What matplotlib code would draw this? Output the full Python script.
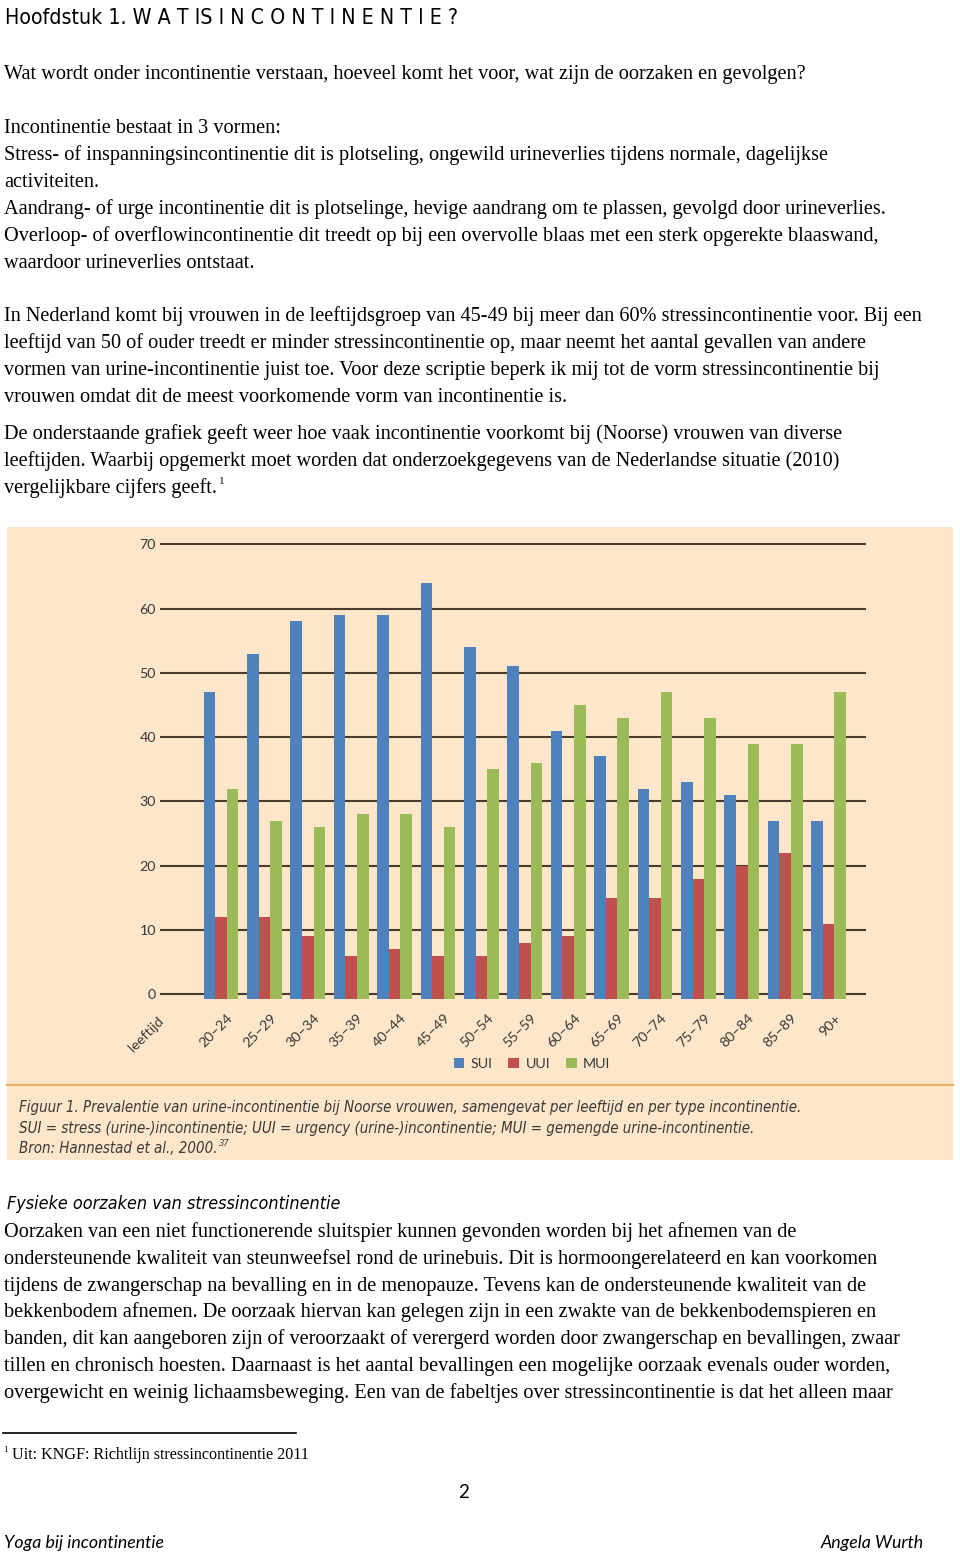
import numpy as np
import matplotlib
matplotlib.use("Agg")
import matplotlib.pyplot as plt
from matplotlib.patches import Rectangle
from matplotlib.lines import Line2D
from matplotlib.transforms import offset_copy

"Chart data: prevalence (%) per age group and type"
ages = ["20–24", "25–29", "30–34", "35–39", "40–44", "45–49", "50–54", "55–59",
        "60–64", "65–69", "70–74", "75–79", "80–84", "85–89", "90+"]
sui = [47, 53, 58, 59, 59, 64, 54, 51, 41, 37, 32, 33, 31, 27, 27]
uui = [12, 12, 9, 6, 7, 6, 6, 8, 9, 15, 15, 18, 20, 22, 11]
mui = [32, 27, 26, 28, 28, 26, 35, 36, 45, 43, 47, 43, 39, 39, 47]
series_names = ["SUI", "UUI", "MUI"]
yticks = [0, 10, 20, 30, 40, 50, 60, 70]

"Page text"
header = "Hoofdstuk 1. W A T IS I N C O N T I N E N T I E ?"
body_top = [
    (79, "Wat wordt onder incontinentie verstaan, hoeveel komt het voor, wat zijn de oorzaken en gevolgen?"),
    (133, "Incontinentie bestaat in 3 vormen:"),
    (160, "Stress- of inspanningsincontinentie dit is plotseling, ongewild urineverlies tijdens normale, dagelijkse"),
    (187, "activiteiten."),
    (214, "Aandrang- of urge incontinentie dit is plotselinge, hevige aandrang om te plassen, gevolgd door urineverlies."),
    (241, "Overloop- of overflowincontinentie dit treedt op bij een overvolle blaas met een sterk opgerekte blaaswand,"),
    (268, "waardoor urineverlies ontstaat."),
    (321, "In Nederland komt bij vrouwen in de leeftijdsgroep van 45-49 bij meer dan 60% stressincontinentie voor. Bij een"),
    (348, "leeftijd van 50 of ouder treedt er minder stressincontinentie op, maar neemt het aantal gevallen van andere"),
    (375, "vormen van urine-incontinentie juist toe. Voor deze scriptie beperk ik mij tot de vorm stressincontinentie bij"),
    (402, "vrouwen omdat dit de meest voorkomende vorm van incontinentie is."),
    (439, "De onderstaande grafiek geeft weer hoe vaak incontinentie voorkomt bij (Noorse) vrouwen van diverse"),
    (466, "leeftijden. Waarbij opgemerkt moet worden dat onderzoekgegevens van de Nederlandse situatie (2010)"),
    (493, "vergelijkbare cijfers geeft."),
]
caption = [
    "Figuur 1. Prevalentie van urine-incontinentie bij Noorse vrouwen, samengevat per leeftijd en per type incontinentie.",
    "SUI = stress (urine-)incontinentie; UUI = urgency (urine-)incontinentie; MUI = gemengde urine-incontinentie.",
    "Bron: Hannestad et al., 2000.",
]
subheading = "Fysieke oorzaken van stressincontinentie"
body_bottom = [
    "Oorzaken van een niet functionerende sluitspier kunnen gevonden worden bij het afnemen van de",
    "ondersteunende kwaliteit van steunweefsel rond de urinebuis. Dit is hormoongerelateerd en kan voorkomen",
    "tijdens de zwangerschap na bevalling en in de menopauze. Tevens kan de ondersteunende kwaliteit van de",
    "bekkenbodem afnemen. De oorzaak hiervan kan gelegen zijn in een zwakte van de bekkenbodemspieren en",
    "banden, dit kan aangeboren zijn of veroorzaakt of verergerd worden door zwangerschap en bevallingen, zwaar",
    "tillen en chronisch hoesten. Daarnaast is het aantal bevallingen een mogelijke oorzaak evenals ouder worden,",
    "overgewicht en weinig lichaamsbeweging. Een van de fabeltjes over stressincontinentie is dat het alleen maar",
]
footnote = "Uit: KNGF: Richtlijn stressincontinentie 2011"

W, H = 960, 1552
fig = plt.figure(figsize=(W / 100, H / 100), dpi=100)
fig.patch.set_facecolor("white")


def fx(px):
    return px / W


def fy(py):
    return 1 - py / H


serif = "Liberation Serif"
narrow = "DejaVu Sans"
chartfont = "Lato"
body_size = 14.6
chart_size = 10.3

fig.text(fx(5), fy(24), header, family=narrow, stretch="condensed", fontsize=15.3,
         va="baseline", color="black")
for by, line in body_top:
    fig.text(fx(4), fy(by), line, family=serif, fontsize=body_size, va="baseline")
fig.text(fx(219), fy(484), "1", family=serif, fontsize=8, va="baseline")

"Chart panel"
bg = "#fde6c9"
fig.patches.append(Rectangle((fx(7), fy(1160)), fx(953) - fx(7), fy(527) - fy(1160),
                             transform=fig.transFigure, facecolor=bg, edgecolor="none",
                             zorder=-10))
fig.lines.append(Line2D([fx(7), fx(953)], [fy(1085), fy(1085)], transform=fig.transFigure,
                        color="#e9b46c", lw=1.6, zorder=-5))

ppu = 6.43
y0 = 994.3
ylo, yhi = -0.9, 70.9
ax_left, ax_right = 160, 866
ax = fig.add_axes([fx(ax_left), fy(y0 - ylo * ppu), fx(ax_right) - fx(ax_left),
                   (yhi - ylo) * ppu / H])
ax.patch.set_alpha(0)

x = np.arange(len(ages))
w = 0.268
base = -0.7
colors = ["#4f81bd", "#c0504d", "#9bbb59"]
for k, vals in enumerate([sui, uui, mui]):
    ax.bar(x + (k - 1) * w, np.array(vals) - base, w, bottom=base, color=colors[k],
           label=series_names[k], zorder=3)

ax.set_xlim((ax_left - 221) / 43.4, (ax_right - 221) / 43.4)
ax.set_ylim(ylo, yhi)
for t in yticks:
    ax.axhline(t, color="#4a3b30", lw=1.5, zorder=1)
ax.set_yticks(yticks)
ax.set_yticklabels([str(t) for t in yticks], family=chartfont, fontsize=chart_size,
                   color="#3a3a3a")
ax.tick_params(axis="y", length=0, pad=3)
ax.set_xticks([])
for s in ax.spines.values():
    s.set_visible(False)

lab_tr = offset_copy(ax.transData, fig=fig, x=10, y=-22, units="dots")
for i, a in enumerate(ages):
    ax.text(x[i], 0, a, transform=lab_tr, rotation=45, ha="right", va="center",
            rotation_mode="anchor", family=chartfont, fontsize=chart_size, color="#3a3a3a")
fig.text(fx(162), fy(1019), "leeftijd", rotation=45, ha="right", va="center",
         rotation_mode="anchor", family=chartfont, fontsize=chart_size, color="#3a3a3a")

ax.legend(loc="center", bbox_to_anchor=(fx(532), fy(1064)), bbox_transform=fig.transFigure,
          ncol=3, frameon=False, handlelength=0.75, handleheight=0.75, columnspacing=1.1,
          handletextpad=0.45, prop={"family": chartfont, "size": chart_size},
          labelcolor="#3a3a3a")

for i, line in enumerate(caption):
    fig.text(fx(19), fy(1112 + i * 20.5), line, family=narrow, stretch="condensed",
             style="italic", fontsize=10.85, va="baseline", color="#3a3a3a")
fig.text(fx(219), fy(1146), "37", family=narrow, style="italic", fontsize=6, va="baseline",
         color="#3a3a3a")

fig.text(fx(7), fy(1209), subheading, family=narrow, stretch="condensed", style="italic",
         fontsize=12.9, va="baseline")
for i, line in enumerate(body_bottom):
    fig.text(fx(4), fy(1237 + i * 26.8), line, family=serif, fontsize=body_size, va="baseline")

fig.lines.append(Line2D([fx(3), fx(296)], [fy(1433), fy(1433)], transform=fig.transFigure,
                        color="black", lw=1.2))
fig.text(fx(3), fy(1452), "1", family=serif, fontsize=6.5, va="baseline")
fig.text(fx(12), fy(1459), footnote, family=serif, fontsize=11.6, va="baseline")

fig.text(fx(464), fy(1498), "2", family="Lato", fontsize=13.5, ha="center", va="baseline")
fig.text(fx(4), fy(1548), "Yoga bij incontinentie", family="Lato", style="italic", fontsize=12.8,
         va="baseline")
fig.text(fx(924), fy(1548), "Angela Wurth", family="Lato", style="italic", fontsize=12.8,
         ha="right", va="baseline")

fig.savefig("out.png", dpi=100)
